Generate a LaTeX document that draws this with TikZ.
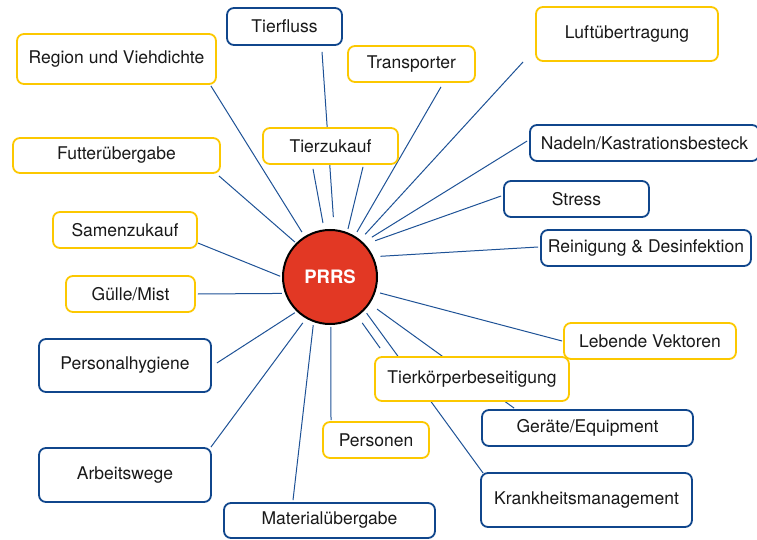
\documentclass[tikz,border=0pt]{standalone}
\usepackage{fontspec}
\setmainfont{TeX Gyre Heros}
\usepackage{tikz}
\usetikzlibrary{backgrounds}

\definecolor{boxyellow}{RGB}{252,200,0}
\definecolor{boxblue}{RGB}{16,70,140}
\definecolor{linkblue}{RGB}{30,82,150}
\definecolor{prrsred}{RGB}{226,56,36}

\begin{document}
\begin{tikzpicture}[x=1pt, y=-1pt,
		box/.style={draw, fill=white, rounded corners=7pt, line width=1.8pt, inner sep=0pt,
			minimum height=36pt, text=black!90, font=\fontsize{17.5}{20}\selectfont},
		ybox/.style={box, draw=boxyellow},
		bbox/.style={box, draw=boxblue},
		link/.style={draw=linkblue, line width=1pt}]
	\useasboundingbox (0,0) rectangle (757,540);
	\node[circle, draw, line width=2pt, fill=prrsred, minimum size=94pt, text=white,
		font=\bfseries\fontsize{18.5}{20}\selectfont] (prrs) at (330,277) {PRRS};
		\node[bbox, minimum width=115pt, minimum height=37pt] (tierfluss) at (284.5,26.5) {Tierfluss};
		\node[ybox, minimum width=199pt, minimum height=50pt] (region) at (116.5,59) {Region und Viehdichte};
		\node[ybox, minimum width=127pt] (transporter) at (411.5,64) {Transporter};
		\node[ybox, minimum width=182pt, minimum height=54pt] (luft) at (627,34) {Luftübertragung};
		\node[ybox, minimum width=207pt, minimum height=35pt] (futter) at (116.5,155.5) {Futterübergabe};
		\node[ybox, minimum width=135pt] (tierzukauf) at (330.5,146) {Tierzukauf};
		\node[bbox, minimum width=229pt] (nadeln) at (644.5,143) {Nadeln/Kastrationsbesteck};
		\node[bbox, minimum width=145pt] (stress) at (576.5,199) {Stress};
		\node[bbox, minimum width=210pt] (reinigung) at (646,248) {Reinigung \& Desinfektion};
		\node[ybox, minimum width=144pt] (samen) at (125,230) {Samenzukauf};
		\node[ybox, minimum width=129pt] (guelle) at (130.5,294) {Gülle/Mist};
		\node[bbox, minimum width=172pt, minimum height=53pt] (personal) at (125,365.5) {Personalhygiene};
		\node[bbox, minimum width=172pt, minimum height=54pt] (arbeit) at (125,475) {Arbeitswege};
		\node[bbox, minimum width=211pt, minimum height=35pt] (material) at (329.5,520.5) {Materialübergabe};
		\node[ybox, minimum width=172pt] (lebende) at (650,341) {Lebende Vektoren};
		\node[ybox, minimum width=194pt, minimum height=44pt] (tierkoerper) at (472,379) {Tierkörperbeseitigung};
		\node[bbox, minimum width=211pt] (geraete) at (587.5,428) {Geräte/Equipment};
		\node[ybox, minimum width=106pt] (personen) at (376,440) {Personen};
		\node[bbox, minimum width=211pt, minimum height=54pt] (krankheit) at (586.5,500) {Krankheitsmanagement};
	\begin{scope}[on background layer]
		\foreach \ang/\gap/\tgt/\dx/\dy in {122/5/region.south east/-6/1,
				135/1.5/futter.south east/-2/2,
				97/6.5/tierzukauf.south/-17.5/4,
				85/12/tierfluss.south/37.5/6,
				69/3.3/tierzukauf.south/32.5/2,
				59/4.5/transporter.south/29.5/4,
				51/7.4/luft.south west/-12/0,
				46/10/nadeln.west/-2/-2,
				43/10.7/stress.west/-2/-3,
				25/7/reinigung.west/-2/-1,
				342/4.5/lebende.west/-1/0,
				326/9/geraete.north west/33/-1,
				316/3.6/krankheit.north west/3/1,
				305/8/tierkoerper.north west/6/-8,
				271/2/personen.north/-45/-1,
				250/3/material.north/-36.5/-2,
				240/5.3/arbeit.north east/-1/0,
				226/2.2/personal.east/5/-2.5,
				200/3/guelle.east/2/0,
				180/2/samen.east/0/13}
			\draw[link, shorten <=\gap pt] (prrs.\ang) -- ([shift={(\dx,\dy)}]\tgt);
	\end{scope}
\end{tikzpicture}
\end{document}
